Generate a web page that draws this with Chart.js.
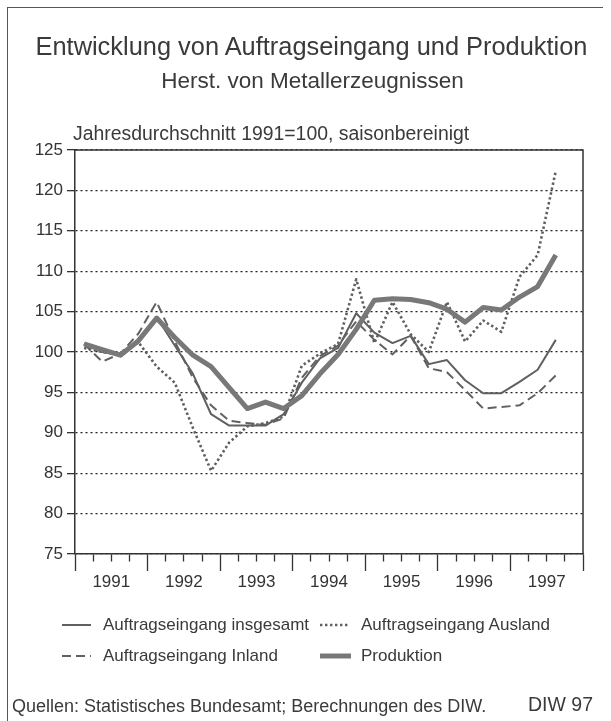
<!DOCTYPE html>
<html><head><meta charset="utf-8">
<script src="https://cdn.jsdelivr.net/npm/chart.js@4.4.1/dist/chart.umd.min.js"></script>
<style>
html,body{margin:0;padding:0;background:#fff;}
#wrap{position:relative;width:611px;height:721px;overflow:hidden;font-family:"Liberation Sans",Arial,sans-serif;color:#3a3a3a;background:#fff;}
#c{position:absolute;left:0;top:0;}
#frame{position:absolute;left:7px;top:7px;width:595px;height:720px;border-left:1.5px solid #555;border-top:1.5px solid #555;}
.t{position:absolute;white-space:nowrap;line-height:1;}
.lg{position:absolute;}
</style></head>
<body>
<div id="wrap">
  <div id="frame"></div>
  <canvas id="c" width="611" height="721"></canvas>
  <div class="t" id="title" style="left:6px;width:611px;text-align:center;top:34px;font-size:25.4px;">Entwicklung von Auftragseingang und Produktion</div>
  <div class="t" id="sub" style="left:7px;width:611px;text-align:center;top:70px;font-size:22.5px;">Herst. von Metallerzeugnissen</div>
  <div class="t" id="unit" style="left:73px;top:124px;font-size:19.4px;">Jahresdurchschnitt 1991=100, saisonbereinigt</div>
  <div id="legend"></div>
  <div class="t" style="left:12px;top:697px;font-size:18px;">Quellen: Statistisches Bundesamt; Berechnungen des DIW.</div>
  <div class="t" style="left:528px;top:695px;font-size:19.5px;">DIW 97</div>
</div>
<script>
// ---- data (quarterly, seasonally adjusted, 1991 = 100) ----
const periods = ['1991 Q1','1991 Q2','1991 Q3','1991 Q4','1992 Q1','1992 Q2','1992 Q3','1992 Q4',
  '1993 Q1','1993 Q2','1993 Q3','1993 Q4','1994 Q1','1994 Q2','1994 Q3','1994 Q4',
  '1995 Q1','1995 Q2','1995 Q3','1995 Q4','1996 Q1','1996 Q2','1996 Q3','1996 Q4',
  '1997 Q1','1997 Q2','1997 Q3'];
const yearLabels = ['1991','1992','1993','1994','1995','1996','1997'];
const yTickValues = [75,80,85,90,95,100,105,110,115,120,125];
const seriesNames = ['Auftragseingang insgesamt','Auftragseingang Ausland','Auftragseingang Inland','Produktion'];

const insgesamt = [101.0,100.0,99.6,101.5,104.3,100.8,97.3,92.3,90.9,90.9,90.9,92.3,96.2,99.2,100.5,104.8,
  102.4,101.1,102.0,98.5,99.0,96.5,94.9,94.9,96.3,97.8,101.5];
const ausland = [100.5,100.0,99.8,101.2,98.2,96.2,90.6,85.3,88.8,90.8,91.2,92.0,98.3,99.8,101.0,109.0,
  101.1,106.2,102.2,100.0,106.2,101.3,103.9,102.5,109.3,112.0,122.4];
const inland = [101.0,98.8,99.8,102.3,106.2,101.3,96.8,93.4,91.5,91.2,91.0,91.8,96.8,99.5,100.8,103.8,
  101.5,99.7,102.0,98.0,97.5,95.3,93.0,93.2,93.4,94.9,97.1];
const produktion = [101.0,100.3,99.6,101.4,104.2,101.8,99.6,98.2,95.6,93.0,93.8,93.0,94.6,97.3,99.7,102.8,
  106.4,106.6,106.5,106.1,105.3,103.7,105.5,105.2,106.8,108.1,112.0];

// quarter midpoints on a year axis
const periodX = periods.map(p => { const [y, q] = p.split(' Q'); return Number(y) + (Number(q) - 0.5) / 4; });
const toPts = arr => arr.map((v, i) => ({x: periodX[i], y: v}));
const firstYear = Number(yearLabels[0]);
const lastYear = Number(yearLabels[yearLabels.length - 1]) + 1;
const quarterBounds = [];
for (let k = 0; k <= (lastYear - firstYear) * 4; k++) quarterBounds.push(firstYear + k / 4);

const FONT = '"Liberation Sans", Arial, sans-serif';
const INK = '#333';

const styles = [
  {borderColor:'#606060', borderWidth:2, borderDash:[]},
  {borderColor:'#606060', borderWidth:2.6, borderDash:[2.4,2.6]},
  {borderColor:'#606060', borderWidth:2, borderDash:[9,5]},
  {borderColor:'#787878', borderWidth:5, borderDash:[]}
];
const values = [insgesamt, ausland, inland, produktion];

const frame = {
  id: 'frame',
  afterDraw(chart) {
    const {ctx, chartArea: a} = chart;
    ctx.save();
    ctx.strokeStyle = INK; ctx.lineWidth = 1.5;
    ctx.beginPath();
    ctx.moveTo(a.left, a.top); ctx.lineTo(a.right, a.top); ctx.lineTo(a.right, a.bottom);
    ctx.stroke();
    ctx.restore();
  }
};

const chart = new Chart(document.getElementById('c'), {
  type: 'line',
  data: {
    datasets: values.map((v, i) => Object.assign({
      label: seriesNames[i],
      data: toPts(v),
      pointRadius: 0,
      tension: 0,
      fill: false,
      borderCapStyle: 'butt',
      borderJoinStyle: 'round',
      order: i === 3 ? 0 : 1
    }, styles[i]))
  },
  options: {
    responsive: false,
    animation: false,
    events: [],
    layout: {padding: {left: 0, top: 150, right: 28, bottom: 127}},
    plugins: {legend: {display: false}, title: {display: false}, tooltip: {enabled: false}},
    scales: {
      x: {
        type: 'linear', min: firstYear, max: lastYear,
        afterBuildTicks: s => { s.ticks = quarterBounds.map(v => ({value: v})); },
        afterFit: s => { s.height = 40; },
        ticks: {
          autoSkip: false, maxRotation: 0, minRotation: 0, padding: 1, color: INK,
          font: {family: FONT, size: 17},
          callback: v => { const k = Math.round((v - firstYear) * 4); return (k % 4 === 2) ? yearLabels[(k - 2) / 4] : ''; }
        },
        grid: {
          drawOnChartArea: false, tickLength: 17, tickColor: INK, tickWidth: 1.3,
          tickBorderDash: ctx => (ctx.tick && Math.round((ctx.tick.value - firstYear) * 4) % 4 !== 0) ? [7, 40] : []
        },
        border: {color: INK, width: 1.5}
      },
      y: {
        min: yTickValues[0], max: yTickValues[yTickValues.length - 1],
        afterBuildTicks: s => { s.ticks = yTickValues.map(v => ({value: v})); },
        afterFit: s => { s.width = 75; },
        ticks: {padding: 4, color: INK, font: {family: FONT, size: 17}},
        grid: {color: '#222', lineWidth: 1.3, tickLength: 8, tickColor: INK, tickWidth: 1.3},
        border: {color: INK, width: 1.5, dash: [2, 3]}
      }
    }
  },
  plugins: [frame]
});

// HTML legend built from the datasets
const legendPos = [
  {x: 62, y: 625}, {x: 320, y: 625}, {x: 62, y: 656}, {x: 320, y: 656}
];
const lg = document.getElementById('legend');
chart.data.datasets.forEach((ds, i) => {
  const p = legendPos[i];
  const svg = `<svg class="lg" width="34" height="10" style="left:${p.x}px;top:${p.y - 5}px">` +
    `<line x1="0" y1="5" x2="${i === 3 ? 31 : 29}" y2="5" stroke="${ds.borderColor}" stroke-width="${ds.borderWidth}" ` +
    `stroke-dasharray="${ds.borderDash.length ? ds.borderDash.join(',') : 'none'}"/></svg>`;
  const txt = `<div class="t" style="left:${p.x + 41}px;top:${p.y - 9}px;font-size:17px;">${ds.label}</div>`;
  lg.insertAdjacentHTML('beforeend', svg + txt);
});
</script>
</body></html>
